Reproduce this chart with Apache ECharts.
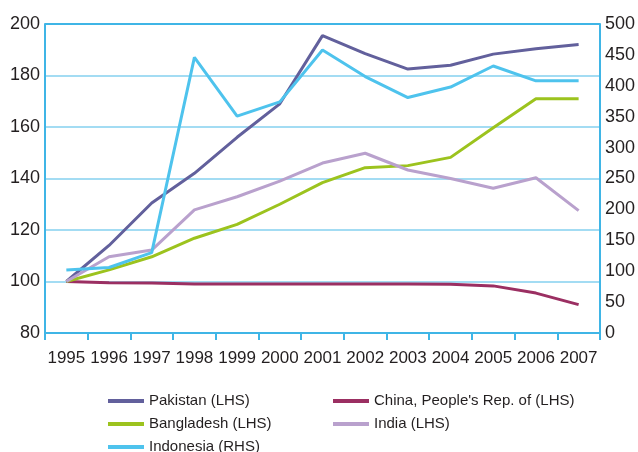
<!DOCTYPE html>
<html>
<head>
<meta charset="utf-8">
<script src="https://cdn.jsdelivr.net/npm/echarts@6/dist/echarts.min.js"></script>
<style>
  html, body { margin: 0; padding: 0; background: #fff; }
  #chart { width: 638px; height: 452px; }
</style>
</head>
<body>
<div id="chart"></div>
<script>
// categories + series (LHS = index, RHS = Indonesia)
var years = ['1995', '1996', '1997', '1998', '1999', '2000', '2001', '2002', '2003', '2004', '2005', '2006', '2007']
var pakistan = [100, 114, 130.5, 142, 156, 169, 195.5, 188.5, 182.5, 184, 188.3, 190.4, 192]
var china = [100, 99.5, 99.4, 99, 99, 99, 99, 99, 99, 98.9, 98.3, 95.5, 91]
var bangladesh = [100, 104.5, 109.6, 116.8, 122.2, 130, 138.4, 144.2, 145, 148.2, 159.7, 171, 171]
var india = [100, 109.6, 112.2, 127.8, 132.9, 139, 146, 149.8, 143.3, 140, 136.2, 140.3, 127.5]
var indonesia = [102, 106, 130, 446, 351, 374, 458, 415, 381, 398, 432, 408, 408]

var axisBlue = '#3fb5e6'
var gridBlue = '#a3dcf3'
var textColor = '#231f20'

function line(name, data, color, axis) {
  return {
    name: name,
    type: 'line',
    yAxisIndex: axis || 0,
    data: data,
    symbol: 'none',
    lineStyle: { color: color, width: 3 },
    itemStyle: { color: color }
  }
}

function legendCol(left, names) {
  return {
    orient: 'vertical',
    left: left,
    top: 392,
    height: 80,
    padding: 0,
    icon: 'rect',
    itemWidth: 36,
    itemHeight: 4,
    itemGap: 5,
    textStyle: { fontSize: 15, color: textColor, lineHeight: 18 },
    data: names
  }
}

var chart = echarts.init(document.getElementById('chart'))
chart.setOption({
  animation: false,
  textStyle: { fontFamily: 'Liberation Sans' },
  grid: { left: 45, right: 37, top: 24, bottom: 119 },
  legend: [
    legendCol(108, ['Pakistan (LHS)', 'Bangladesh (LHS)', 'Indonesia (RHS)']),
    legendCol(333, ['China, People\'s Rep. of (LHS)', 'India (LHS)'])
  ],
  xAxis: {
    type: 'category',
    data: years,
    boundaryGap: true,
    axisLine: { lineStyle: { color: axisBlue, width: 2 } },
    axisTick: { show: true, length: 7, lineStyle: { color: axisBlue, width: 2 } },
    axisLabel: { color: textColor, fontSize: 17, margin: 17, interval: 0 },
    splitLine: { show: false }
  },
  yAxis: [
    {
      type: 'value',
      min: 80,
      max: 200,
      interval: 20,
      axisLine: { show: true, lineStyle: { color: axisBlue, width: 2 } },
      axisTick: { show: false },
      axisLabel: { color: textColor, fontSize: 18, margin: 5 },
      splitLine: {
        show: true,
        lineStyle: { color: [gridBlue, gridBlue, gridBlue, gridBlue, gridBlue, gridBlue, axisBlue], width: 2 }
      }
    },
    {
      type: 'value',
      min: 0,
      max: 500,
      interval: 50,
      position: 'right',
      axisLine: { show: true, lineStyle: { color: axisBlue, width: 2 } },
      axisTick: { show: false },
      axisLabel: { color: textColor, fontSize: 18, margin: 5 },
      splitLine: { show: false }
    }
  ],
  series: [
    line('Pakistan (LHS)', pakistan, '#62609c'),
    line('China, People\'s Rep. of (LHS)', china, '#9b2f62'),
    line('Bangladesh (LHS)', bangladesh, '#9cc31e'),
    line('India (LHS)', india, '#b9a1cd'),
    line('Indonesia (RHS)', indonesia, '#4ec3ed', 1)
  ]
})
</script>
</body>
</html>
